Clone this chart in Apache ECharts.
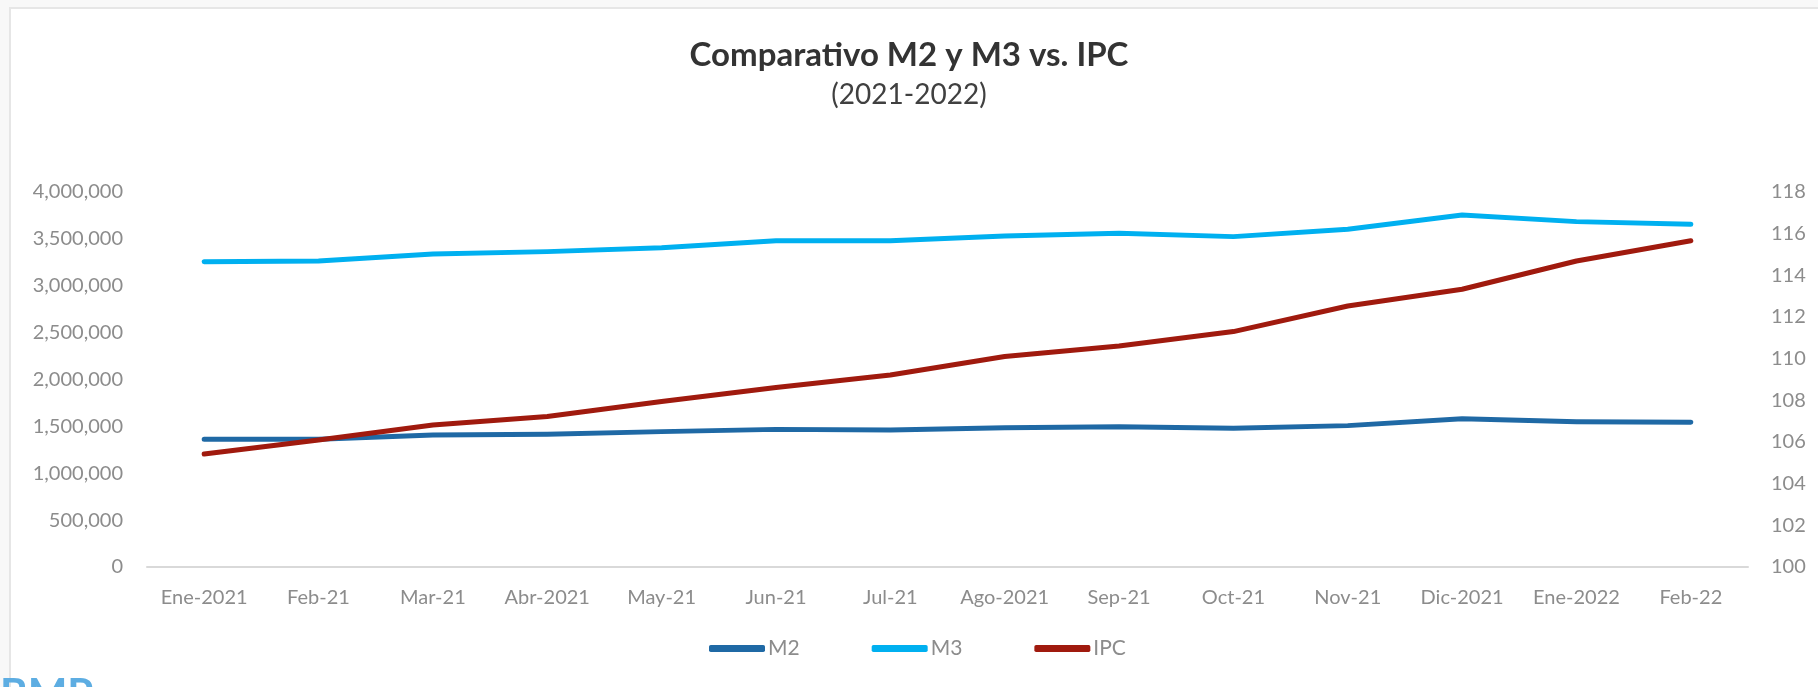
<!DOCTYPE html>
<html>
<head>
<meta charset="utf-8">
<script src="https://cdn.jsdelivr.net/npm/echarts@6/dist/echarts.min.js"></script>
<style>
  html, body { margin: 0; padding: 0; background: #fff; }
  #chart { width: 1818px; height: 687px; }
</style>
</head>
<body>
<div id="chart"></div>
<script>
// datos
var categorias = ['Ene-2021', 'Feb-21', 'Mar-21', 'Abr-2021', 'May-21', 'Jun-21', 'Jul-21',
    'Ago-2021', 'Sep-21', 'Oct-21', 'Nov-21', 'Dic-2021', 'Ene-2022', 'Feb-22'];

var m2 = [1362000, 1362000, 1408000, 1415000, 1444000, 1468000, 1461000,
    1485000, 1497000, 1479000, 1508000, 1582000, 1550000, 1543000];

var m3 = [3257000, 3264000, 3339000, 3364000, 3406000, 3481000, 3481000,
    3531000, 3559000, 3524000, 3602000, 3755000, 3684000, 3655000];

var ipc = [105.42, 106.10, 106.82, 107.22, 107.94, 108.62, 109.22,
    110.10, 110.61, 111.30, 112.53, 113.33, 114.69, 115.66];

var colores = ['#1F69A5', '#00B0F0', '#A01A0E'];
var gris = '#8C8C8C';
var fuente = 'Lato, "Open Sans", sans-serif';

var myChart = echarts.init(document.getElementById('chart'));

var serie = function (nombre, datos, eje, color) {
    return {
        name: nombre,
        type: 'line',
        yAxisIndex: eje,
        data: datos,
        showSymbol: false,
        symbol: 'none',
        lineStyle: { width: 5, color: color, cap: 'round', join: 'round' },
        itemStyle: { color: color },
        silent: true
    };
};

var option = {
    animation: false,
    textStyle: { fontFamily: fuente },
    title: [
        {
            text: 'Comparativo M2 y M3 vs. IPC',
            left: 'center',
            top: 34,
            textStyle: { fontSize: 33, fontWeight: 'bold', color: '#333333', fontFamily: fuente }
        },
        {
            text: '(2021-2022)',
            left: 'center',
            top: 76,
            textStyle: { fontSize: 28, fontWeight: 'normal', color: '#404040', fontFamily: fuente }
        }
    ],
    graphic: [
        { type: 'rect', shape: { x: 0, y: 0, width: 1818, height: 7 }, style: { fill: '#F8F8F8' } },
        { type: 'rect', shape: { x: 0, y: 0, width: 9, height: 687 }, style: { fill: '#F8F8F8' } },
        { type: 'rect', shape: { x: 9, y: 7, width: 1809, height: 2 }, style: { fill: '#E6E6E6' } },
        { type: 'rect', shape: { x: 9, y: 7, width: 2, height: 680 }, style: { fill: '#E6E6E6' } },
        {
            type: 'text', left: 0, top: 674,
            style: { text: 'BMP', fill: '#5DADE2', font: 'bold 42px ' + fuente }
        }
    ],
    legend: {
        data: ['M2', 'M3', 'IPC'],
        left: 704,
        top: 633,
        icon: 'roundRect',
        itemWidth: 56,
        itemHeight: 7,
        itemGap: 72,
        textStyle: { fontSize: 21, color: gris, fontFamily: fuente, padding: [0, 0, 0, -2] }
    },
    grid: { left: 147, right: 70, top: 192, bottom: 120 },
    xAxis: {
        type: 'category',
        data: categorias,
        boundaryGap: true,
        axisLine: { lineStyle: { color: '#D9D9D9', width: 2 } },
        axisTick: { show: false },
        axisLabel: { color: gris, fontSize: 20, margin: 21, interval: 0 }
    },
    yAxis: [
        {
            type: 'value',
            min: 0,
            max: 4000000,
            interval: 500000,
            splitLine: { show: false },
            axisLine: { show: false },
            axisTick: { show: false },
            axisLabel: {
                color: gris, fontSize: 20, margin: 24,
                formatter: function (v) { return v.toLocaleString('en-US'); }
            }
        },
        {
            type: 'value',
            min: 100,
            max: 118,
            interval: 2,
            splitLine: { show: false },
            axisLine: { show: false },
            axisTick: { show: false },
            axisLabel: { color: gris, fontSize: 20, margin: 23 }
        }
    ],
    series: [
        serie('M2', m2, 0, colores[0]),
        serie('M3', m3, 0, colores[1]),
        serie('IPC', ipc, 1, colores[2])
    ]
};

myChart.setOption(option);
window.onresize = myChart.resize;
</script>
</body>
</html>
